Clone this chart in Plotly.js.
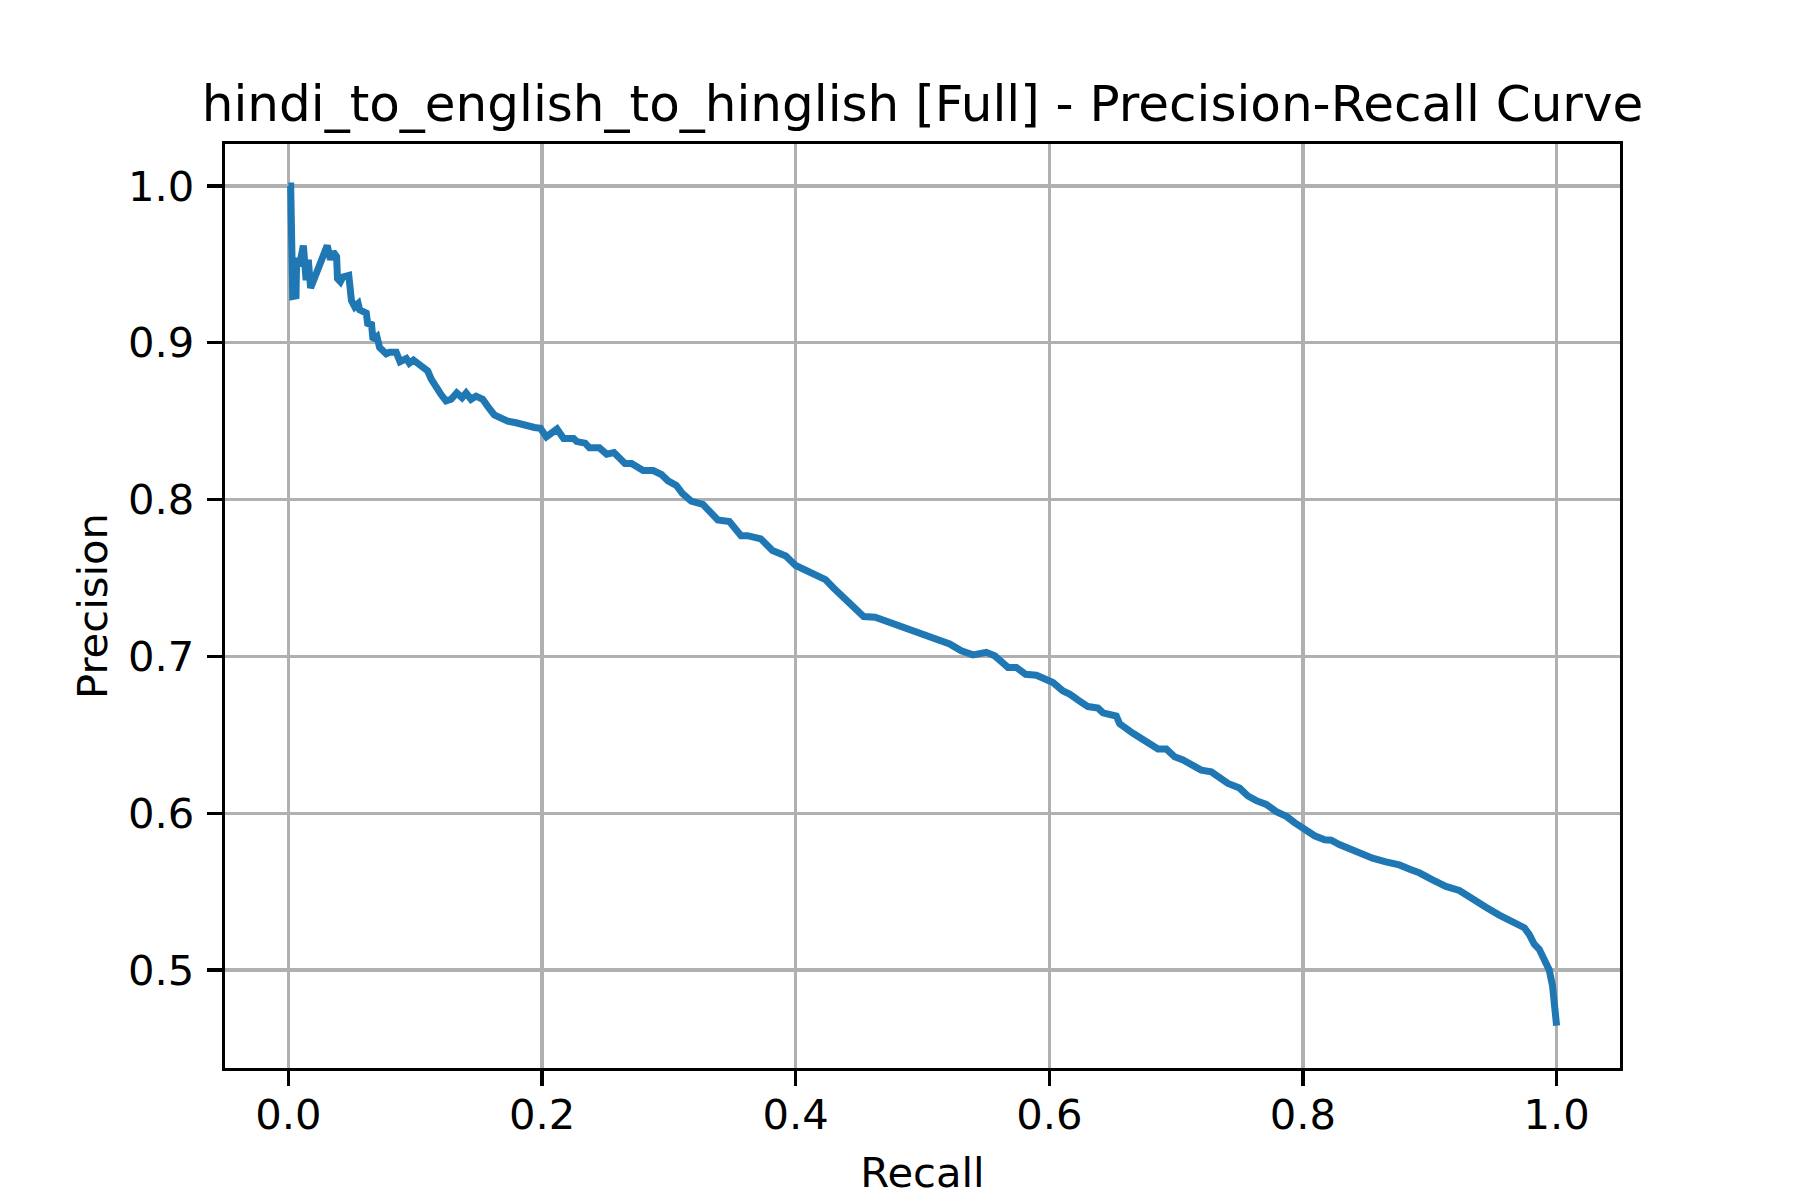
<!DOCTYPE html>
<html>
<head>
<meta charset="utf-8">
<script src="https://cdn.plot.ly/plotly-3.0.1.min.js"></script>
<style>
  body { margin: 0; background: #ffffff; }
  #pr_curve { width: 1800px; height: 1200px; }
</style>
</head>
<body>
<div id="pr_curve"></div>
<script>
var chart_title = "hindi_to_english_to_hinglish [Full] - Precision-Recall Curve";
var x_label = "Recall";
var y_label = "Precision";

// values
var recall = [
  0, 0.0018, 0.0034, 0.006, 0.0065, 0.0086, 0.0118, 0.014, 0.0157, 0.0175,
  0.0306, 0.0332, 0.0353, 0.038, 0.0387, 0.041, 0.043, 0.0476, 0.0497, 0.0523,
  0.055, 0.0562, 0.0614, 0.0627, 0.0654, 0.0667, 0.0698, 0.0719, 0.0771, 0.0797,
  0.085, 0.088, 0.093, 0.0954, 0.0986, 0.102, 0.1099, 0.1125, 0.1164, 0.1204,
  0.1243, 0.1283, 0.1327, 0.1369, 0.1401, 0.144, 0.148, 0.1532, 0.1585, 0.1624,
  0.1677, 0.173, 0.1795, 0.1874, 0.194, 0.1987, 0.2034, 0.2118, 0.217, 0.2248,
  0.2274, 0.234, 0.2374, 0.2452, 0.251, 0.2567, 0.2654, 0.2706, 0.2797, 0.2876,
  0.2941, 0.2993, 0.3059, 0.3106, 0.3176, 0.3268, 0.332, 0.3386, 0.3477, 0.3569,
  0.362, 0.3725, 0.3817, 0.3922, 0.4, 0.4078, 0.4144, 0.4235, 0.4301, 0.4392,
  0.4484, 0.4536, 0.4627, 0.5162, 0.5214, 0.5306, 0.5398, 0.5503, 0.5569, 0.5622,
  0.5674, 0.574, 0.5813, 0.5898, 0.5976, 0.6029, 0.6108, 0.616, 0.6239, 0.6305,
  0.6384, 0.6423, 0.6528, 0.6555, 0.666, 0.6765, 0.6857, 0.6922, 0.6988, 0.7054,
  0.712, 0.7198, 0.7277, 0.7343, 0.7409, 0.75, 0.7566, 0.7632, 0.7711, 0.779,
  0.7869, 0.7934, 0.8, 0.8092, 0.8171, 0.8223, 0.8287, 0.8378, 0.8457, 0.8549,
  0.8654, 0.876, 0.8852, 0.8917, 0.9022, 0.9127, 0.9233, 0.9338, 0.9443, 0.9548,
  0.9627, 0.9706, 0.9745, 0.9784, 0.9824, 0.9863, 0.9903, 0.9942, 0.9968, 0.9989,
  1.0
];
var precision = [
  1.0, 1.0, 0.9296, 0.930, 0.954, 0.949, 0.962, 0.940, 0.953, 0.935,
  0.962, 0.953, 0.958, 0.955, 0.941, 0.939, 0.942, 0.943, 0.927, 0.923,
  0.925, 0.921, 0.919, 0.911, 0.913, 0.902, 0.904, 0.897, 0.893, 0.894,
  0.894, 0.888, 0.890, 0.887, 0.889, 0.887, 0.882, 0.877, 0.871, 0.867,
  0.863, 0.864, 0.868, 0.865, 0.868, 0.864, 0.866, 0.864, 0.858, 0.854,
  0.852, 0.850, 0.849, 0.847, 0.846, 0.8455, 0.840, 0.845, 0.839, 0.839,
  0.837, 0.836, 0.833, 0.833, 0.829, 0.830, 0.823, 0.823, 0.8185, 0.8185,
  0.816, 0.812, 0.809, 0.804, 0.799, 0.797, 0.792, 0.787, 0.786, 0.777,
  0.777, 0.775, 0.7675, 0.764, 0.758, 0.755, 0.752, 0.749, 0.7435, 0.737,
  0.730, 0.7254, 0.725, 0.710, 0.708, 0.7036, 0.701, 0.7026, 0.7004, 0.6966,
  0.693, 0.693, 0.6886, 0.688, 0.6858, 0.6833, 0.678, 0.676, 0.6715, 0.668,
  0.667, 0.664, 0.662, 0.657, 0.651, 0.645, 0.641, 0.641, 0.636, 0.634,
  0.631, 0.6275, 0.6264, 0.623, 0.619, 0.616, 0.611, 0.608, 0.6056, 0.601,
  0.598, 0.594, 0.590, 0.5856, 0.583, 0.5828, 0.580, 0.577, 0.574, 0.5713,
  0.569, 0.567, 0.564, 0.562, 0.5575, 0.5533, 0.5507, 0.5448, 0.540, 0.535,
  0.5316, 0.529, 0.527, 0.5227, 0.5164, 0.5132, 0.5068, 0.500, 0.490, 0.477,
  0.4645
];

var x_ticks = [0.0, 0.2, 0.4, 0.6, 0.8, 1.0];
var y_ticks = [0.5, 0.6, 0.7, 0.8, 0.9, 1.0];

var curve = {
  x: recall,
  y: precision,
  type: 'scatter',
  mode: 'lines',
  line: {color: '#1f77b4', width: 7},
  hoverinfo: 'x+y'
};

var axis_style = {
  showline: true,
  mirror: true,
  linecolor: '#000000',
  linewidth: 3.3,
  showgrid: true,
  gridcolor: '#b0b0b0',
  gridwidth: 3.3,
  zeroline: false,
  ticks: 'outside',
  ticklen: 15,
  tickwidth: 3.3,
  tickcolor: '#000000',
  tickformat: '.1f',
  tickfont: {family: 'DejaVu Sans', size: 41.7, color: '#000000'},
  automargin: false
};

var layout = {
  width: 1800,
  height: 1200,
  paper_bgcolor: '#ffffff',
  plot_bgcolor: '#ffffff',
  showlegend: false,
  font: {family: 'DejaVu Sans', color: '#000000'},
  margin: {l: 225, r: 180, t: 144, b: 132, pad: 0},
  title: {
    text: chart_title,
    font: {family: 'DejaVu Sans', size: 50, color: '#000000'},
    xref: 'paper', x: 0.5, xanchor: 'center',
    yref: 'paper', y: 1, yanchor: 'bottom',
    pad: {b: 23}
  },
  xaxis: Object.assign({}, axis_style, {
    range: [-0.05, 1.05],
    tickvals: x_ticks,
    ticklabelstandoff: -7,
    title: {text: x_label, font: {family: 'DejaVu Sans', size: 41.7, color: '#000000'}, standoff: 20}
  }),
  yaxis: Object.assign({}, axis_style, {
    range: [0.4375, 1.0268],
    tickvals: y_ticks,
    ticklabelstandoff: 4,
    title: {text: y_label, font: {family: 'DejaVu Sans', size: 41.7, color: '#000000'}, standoff: 8}
  })
};

Plotly.newPlot('pr_curve', [curve], layout, {displayModeBar: false, staticPlot: true});
</script>
</body>
</html>
